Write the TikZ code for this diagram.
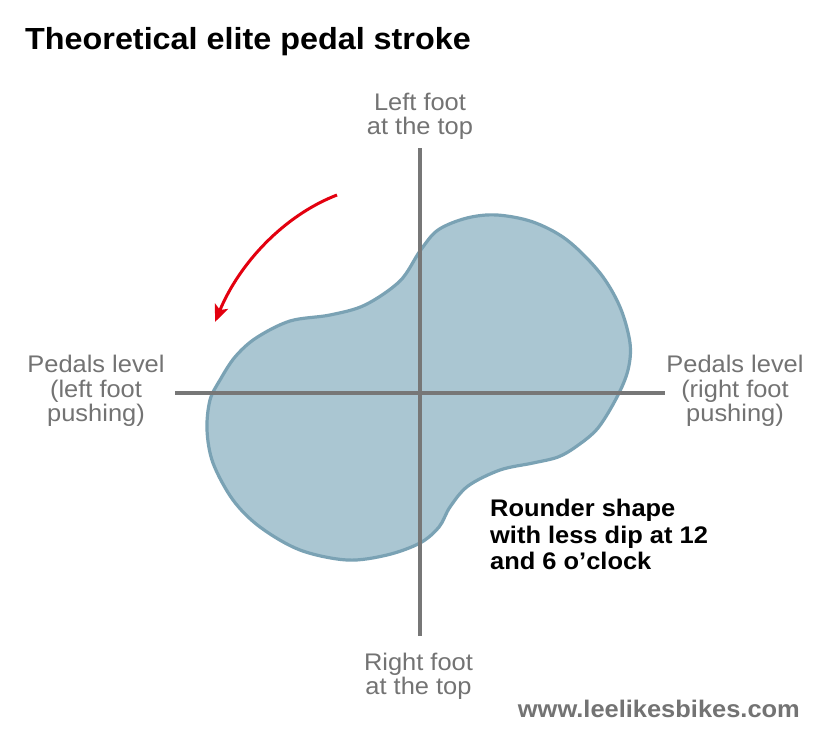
\documentclass[tikz,border=0pt]{standalone}
\usepackage{fontspec}
\setmainfont{Liberation Sans}[FakeStretch=1.06]
\usetikzlibrary{arrows.meta}
\definecolor{axisgray}{HTML}{777777}
\definecolor{labelgray}{HTML}{737373}
\definecolor{blobfill}{HTML}{AAC6D2}
\definecolor{blobline}{HTML}{7AA2B4}
\definecolor{arrowred}{HTML}{E3000F}
\begin{document}
\begin{tikzpicture}[x=1pt,y=-1pt,
  lbl/.style={inner sep=0pt, anchor=base, text=labelgray, font=\fontsize{24}{24.5}\selectfont},
  note/.style={inner sep=0pt, anchor=base west, font=\bfseries\fontsize{24}{26.3}\selectfont},
  axisline/.style={draw=axisgray, line width=4pt},
  blob/.style={fill=blobfill, draw=blobline, line width=3.2pt},
  redarrow/.style={draw=arrowred, line width=3pt, -{Stealth[length=17pt,width=14pt,inset=4pt]}}]
\useasboundingbox (0,0) rectangle (825,742);
\fill[white] (0,0) rectangle (825,742);

% stroke shape
\draw[blob] plot[smooth cycle, tension=0.55] coordinates {
 (420,251) (438,230) (467,218) (497,215) (533,222) (567,240) (600,273)
 (620,307) (630,343) (628,370) (617,397) (598,428) (577,446) (558,457)
 (533,463) (500,470) (468,486) (450,507) (439,527) (420,543) (387,555)
 (347,560) (300,550) (260,527) (233,500) (213,463) (207,430) (210,400)
 (220,380) (235,357) (256,338) (290,321) (330,315) (365,305) (400,281)};

% axes
\coordinate (vtop) at (420,148);
\coordinate (vbot) at (420,636);
\coordinate (hleft) at (175,393);
\coordinate (hright) at (665,393);
\draw[axisline] (vtop) -- (vbot);
\draw[axisline] (hleft) -- (hright);

% rotation arrow
\coordinate (astart) at (337,195);
\coordinate (aend) at (215,322);
\draw[redarrow] (astart) .. controls (285,215) and (240,262) .. (aend);

% texts
\node[anchor=base west, inner sep=0pt, font=\bfseries\fontsize{30.5}{36}\selectfont] (title) at (25,49.3) {Theoretical elite pedal stroke};
\node[lbl] (topl) at (420,110) {\begin{tabular}[t]{@{}c@{}}Left foot\\at the top\end{tabular}};
\node[lbl] (botl) at (418.5,670) {\begin{tabular}[t]{@{}c@{}}Right foot\\at the top\end{tabular}};
\node[lbl] (leftl) at (96,372.5) {\begin{tabular}[t]{@{}c@{}}Pedals level\\(left foot\\pushing)\end{tabular}};
\node[lbl] (rightl) at (735,372.5) {\begin{tabular}[t]{@{}c@{}}Pedals level\\(right foot\\pushing)\end{tabular}};
\node[note] (notel) at (490,516.7) {\begin{tabular}[t]{@{}l@{}}Rounder shape\\with less dip at 12\\and 6 o’clock\end{tabular}};
\node[anchor=base east, inner sep=0pt, text=labelgray, font=\bfseries\fontsize{24}{28}\selectfont] (web) at (800,717) {www.leelikesbikes.com};
\end{tikzpicture}
\end{document}
